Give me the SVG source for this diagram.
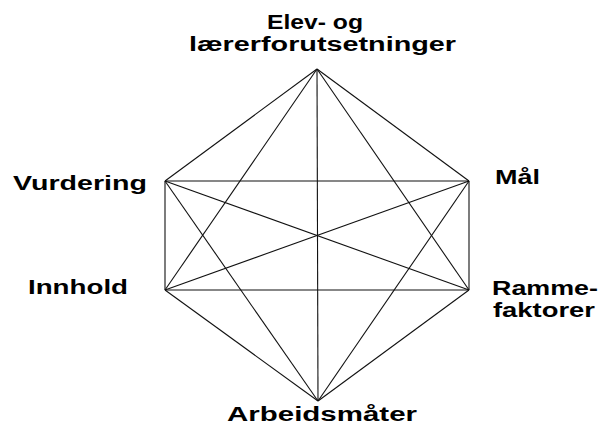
<svg xmlns="http://www.w3.org/2000/svg" width="603" height="426" viewBox="0 0 603 426">
<style>
.lbl{font-family:"Liberation Sans",Arial,sans-serif;font-weight:bold;font-size:20px;fill:#000}
.e{stroke:#111;stroke-width:1.1;fill:none}
</style>
<rect width="603" height="426" fill="#fff"/>
<g id="connectors">
<line class="e" x1="317" y1="69" x2="469" y2="181"/>
<line class="e" x1="317" y1="69" x2="469" y2="290"/>
<line class="e" x1="317" y1="69" x2="318" y2="401"/>
<line class="e" x1="317" y1="69" x2="165" y2="290"/>
<line class="e" x1="317" y1="69" x2="165" y2="181"/>
<line class="e" x1="469" y1="181" x2="469" y2="290"/>
<line class="e" x1="469" y1="181" x2="318" y2="401"/>
<line class="e" x1="469" y1="181" x2="165" y2="290"/>
<line class="e" x1="469" y1="181" x2="165" y2="181"/>
<line class="e" x1="469" y1="290" x2="318" y2="401"/>
<line class="e" x1="469" y1="290" x2="165" y2="290"/>
<line class="e" x1="469" y1="290" x2="165" y2="181"/>
<line class="e" x1="318" y1="401" x2="165" y2="290"/>
<line class="e" x1="318" y1="401" x2="165" y2="181"/>
<line class="e" x1="165" y1="290" x2="165" y2="181"/>
</g>
<g id="node-elev">
<text class="lbl" x="267" y="29" textLength="96" lengthAdjust="spacingAndGlyphs">Elev- og</text>
<text class="lbl" x="189" y="51" textLength="267" lengthAdjust="spacingAndGlyphs">lærerforutsetninger</text>
</g>
<g id="node-maal">
<text class="lbl" x="495" y="184" textLength="45" lengthAdjust="spacingAndGlyphs">Mål</text>
</g>
<g id="node-rammefaktorer">
<text class="lbl" x="492" y="295" textLength="106" lengthAdjust="spacingAndGlyphs">Ramme-</text>
<text class="lbl" x="493" y="317" textLength="102" lengthAdjust="spacingAndGlyphs">faktorer</text>
</g>
<g id="node-arbeidsmaater">
<text class="lbl" x="227" y="421" textLength="190" lengthAdjust="spacingAndGlyphs">Arbeidsmåter</text>
</g>
<g id="node-innhold">
<text class="lbl" x="28" y="294" textLength="100" lengthAdjust="spacingAndGlyphs">Innhold</text>
</g>
<g id="node-vurdering">
<text class="lbl" x="13" y="190" textLength="134" lengthAdjust="spacingAndGlyphs">Vurdering</text>
</g>
</svg>
